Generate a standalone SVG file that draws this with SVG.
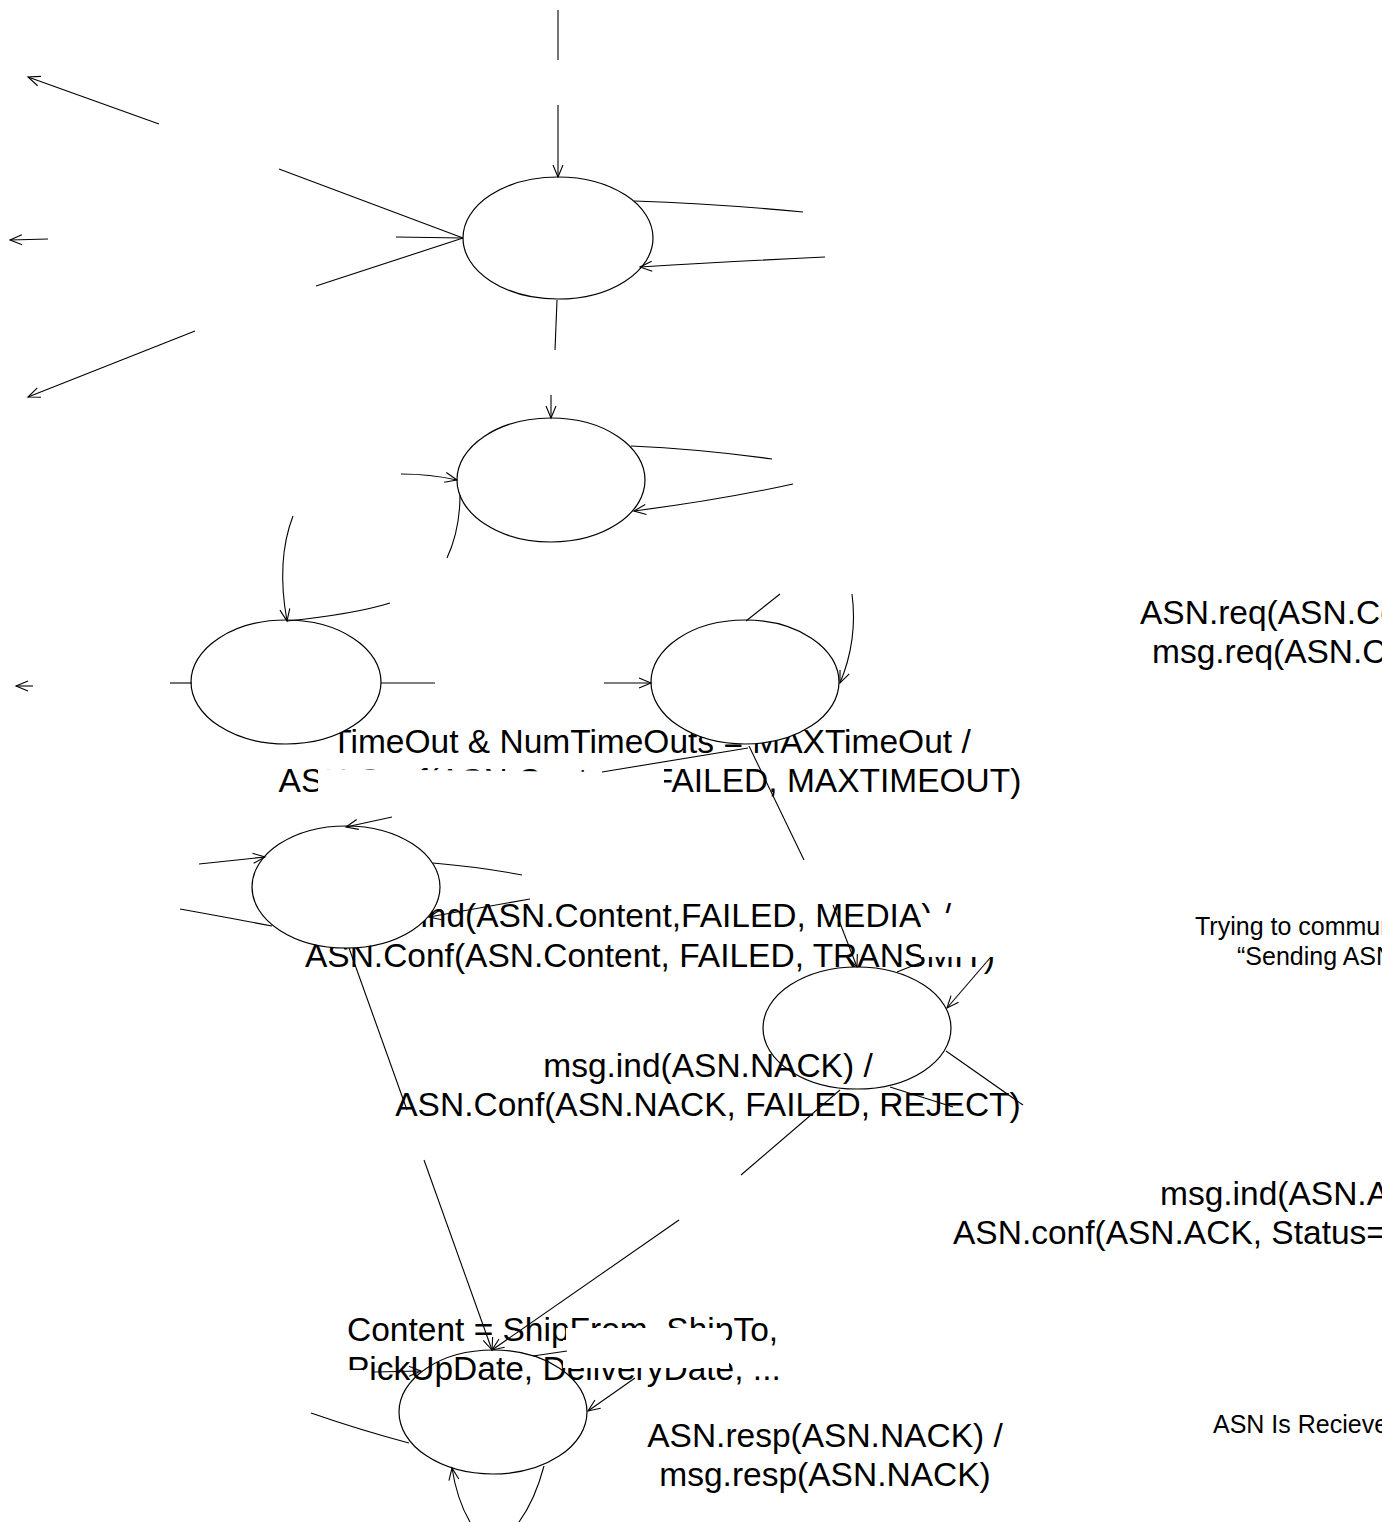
<svg xmlns="http://www.w3.org/2000/svg" width="1382" height="1522" viewBox="0 0 1382 1522">
<style>
.st{fill:#fff;stroke:#000;stroke-width:1.2}
.ln{fill:none;stroke:#000;stroke-width:1.1}
.t{font-family:"Liberation Sans",Arial,sans-serif;font-size:33.5px;fill:#000}
.ts{font-family:"Liberation Sans",Arial,sans-serif;font-size:25px;fill:#000}
.occ{fill:#fff;stroke:none}
</style>
<defs>
<marker id="arr" markerUnits="userSpaceOnUse" markerWidth="14" markerHeight="12" refX="12" refY="5" orient="auto" overflow="visible">
<path d="M0,0 L12,5 L0,10" fill="none" stroke="#000" stroke-width="1.1"/>
</marker>
</defs>
<rect width="1382" height="1522" fill="#fff"/>

<g id="node-E6"><ellipse class="st" cx="857" cy="1028" rx="94" ry="61"/></g>
<g id="node-E7"><ellipse class="st" cx="493" cy="1412" rx="94" ry="62"/></g>

<g id="labels">
<text class="t" x="651" y="753" text-anchor="middle">TimeOut &amp; NumTimeOuts = MAXTimeOut  /</text>
<text class="t" x="650" y="792" text-anchor="middle">ASN.Conf(ASN.Content, FAILED, MAXTIMEOUT)</text>
<text class="t" x="951" y="927" text-anchor="end">msg.ind(ASN.Content,FAILED, MEDIA) /</text>
<text class="t" x="650" y="967" text-anchor="middle">ASN.Conf(ASN.Content, FAILED, TRANSMIT)</text>
<text class="t" x="708" y="1077" text-anchor="middle">msg.ind(ASN.NACK) /</text>
<text class="t" x="708" y="1116" text-anchor="middle">ASN.Conf(ASN.NACK, FAILED, REJECT)</text>
<text class="t" x="347" y="1341">Content = ShipFrom, ShipTo,</text>
<text class="t" x="347" y="1380">PickUpDate, DeliveryDate, ...</text>
<text class="t" x="825" y="1447" text-anchor="middle">ASN.resp(ASN.NACK) /</text>
<text class="t" x="825" y="1486" text-anchor="middle">msg.resp(ASN.NACK)</text>
<text class="t" x="1140" y="624">ASN.req(ASN.Content) /</text>
<text class="t" x="1152" y="663">msg.req(ASN.Content)</text>
<text class="ts" x="1195" y="935">Trying to communicate</text>
<text class="ts" x="1237" y="965">“Sending ASN”</text>
<text class="t" x="1160" y="1205">msg.ind(ASN.ACK) /</text>
<text class="t" x="953" y="1244">ASN.conf(ASN.ACK, Status=SUCCESS)</text>
<text class="ts" x="1213" y="1433">ASN Is Recieved</text>
</g>

<g id="masks">
<polygon class="occ" points="318,769 602,772 664,760 664,803 318,803"/>
<rect class="occ" x="921" y="913" width="80" height="44"/>
<rect class="occ" x="566" y="1328" width="160" height="12"/>
<rect class="occ" x="563" y="1340" width="166" height="28"/>
<rect class="occ" x="345" y="1370" width="18" height="14"/>
<rect class="occ" x="395" y="900" width="20" height="36"/>
</g>

<g id="node-E1"><ellipse class="st" cx="558" cy="238" rx="95" ry="61"/></g>
<g id="node-E2"><ellipse class="st" cx="551" cy="480" rx="94" ry="62"/></g>
<g id="node-E3"><ellipse class="st" cx="286" cy="682" rx="95" ry="62"/></g>
<g id="node-E4"><ellipse class="st" cx="745" cy="682" rx="94" ry="62"/></g>
<g id="node-E5"><ellipse class="st" cx="346" cy="887" rx="94" ry="61"/></g>

<g id="connectors">
<line class="ln" x1="558" y1="10" x2="558" y2="60"/>
<line class="ln" x1="558" y1="105" x2="558" y2="177" marker-end="url(#arr)"/>
<line class="ln" x1="159" y1="124" x2="28" y2="77" marker-end="url(#arr)"/>
<line class="ln" x1="279" y1="169" x2="463" y2="238"/>
<line class="ln" x1="396" y1="237" x2="463" y2="238"/>
<line class="ln" x1="316" y1="286" x2="463" y2="238"/>
<line class="ln" x1="48" y1="239" x2="10" y2="240" marker-end="url(#arr)"/>
<line class="ln" x1="195" y1="331" x2="28" y2="397" marker-end="url(#arr)"/>
<path class="ln" d="M634,201 Q720,204 803,212"/>
<path class="ln" d="M825,257 Q740,261 640,267" marker-end="url(#arr)"/>
<line class="ln" x1="557" y1="300" x2="555" y2="350"/>
<line class="ln" x1="551" y1="395" x2="551" y2="418" marker-end="url(#arr)"/>
<path class="ln" d="M631,446 Q700,449 772,459"/>
<path class="ln" d="M793,484 Q720,500 634,511" marker-end="url(#arr)"/>
<path class="ln" d="M401,474 Q430,474 457,480" marker-end="url(#arr)"/>
<path class="ln" d="M460,495 Q460,530 447,558"/>
<path class="ln" d="M293,516 Q276,560 287,621" marker-end="url(#arr)"/>
<path class="ln" d="M390,603 Q355,614 287,621"/>
<line class="ln" x1="170" y1="683" x2="192" y2="683"/>
<line class="ln" x1="33" y1="686" x2="16" y2="686" marker-end="url(#arr)"/>
<line class="ln" x1="381" y1="683" x2="435" y2="683"/>
<line class="ln" x1="604" y1="683" x2="651" y2="683" marker-end="url(#arr)"/>
<line class="ln" x1="780" y1="594" x2="746" y2="621"/>
<path class="ln" d="M852,594 Q858,640 840,683" marker-end="url(#arr)"/>
<line class="ln" x1="749" y1="746" x2="804" y2="860"/>
<line class="ln" x1="602" y1="772" x2="748" y2="748"/>
<line class="ln" x1="392" y1="817" x2="346" y2="827" marker-end="url(#arr)"/>
<line class="ln" x1="199" y1="864" x2="265" y2="857" marker-end="url(#arr)"/>
<path class="ln" d="M180,909 Q230,918 272,926"/>
<path class="ln" d="M433,863 Q480,867 522,875"/>
<line class="ln" x1="530" y1="899" x2="429" y2="917" marker-end="url(#arr)"/>
<line class="ln" x1="349" y1="948" x2="407" y2="1110"/>
<line class="ln" x1="424" y1="1160" x2="492" y2="1350" marker-end="url(#arr)"/>
<line class="ln" x1="833" y1="905" x2="857" y2="967" marker-end="url(#arr)"/>
<line class="ln" x1="990" y1="958" x2="947" y2="1008" marker-end="url(#arr)"/>
<line class="ln" x1="897" y1="972" x2="922" y2="962"/>
<line class="ln" x1="946" y1="1051" x2="1023" y2="1105"/>
<line class="ln" x1="890" y1="1087" x2="953" y2="1107"/>
<line class="ln" x1="840" y1="1090" x2="741" y2="1175"/>
<line class="ln" x1="679" y1="1220" x2="492" y2="1350" marker-end="url(#arr)"/>
<line class="ln" x1="374" y1="1372" x2="421" y2="1371" marker-end="url(#arr)"/>
<line class="ln" x1="533" y1="1356" x2="567" y2="1351"/>
<line class="ln" x1="635" y1="1378" x2="588" y2="1411" marker-end="url(#arr)"/>
<path class="ln" d="M311,1413 Q360,1430 409,1443"/>
<path class="ln" d="M544,1466 Q535,1500 519,1522"/>
<path class="ln" d="M470,1522 Q457,1500 452,1468" marker-end="url(#arr)"/>
</g>
</svg>
